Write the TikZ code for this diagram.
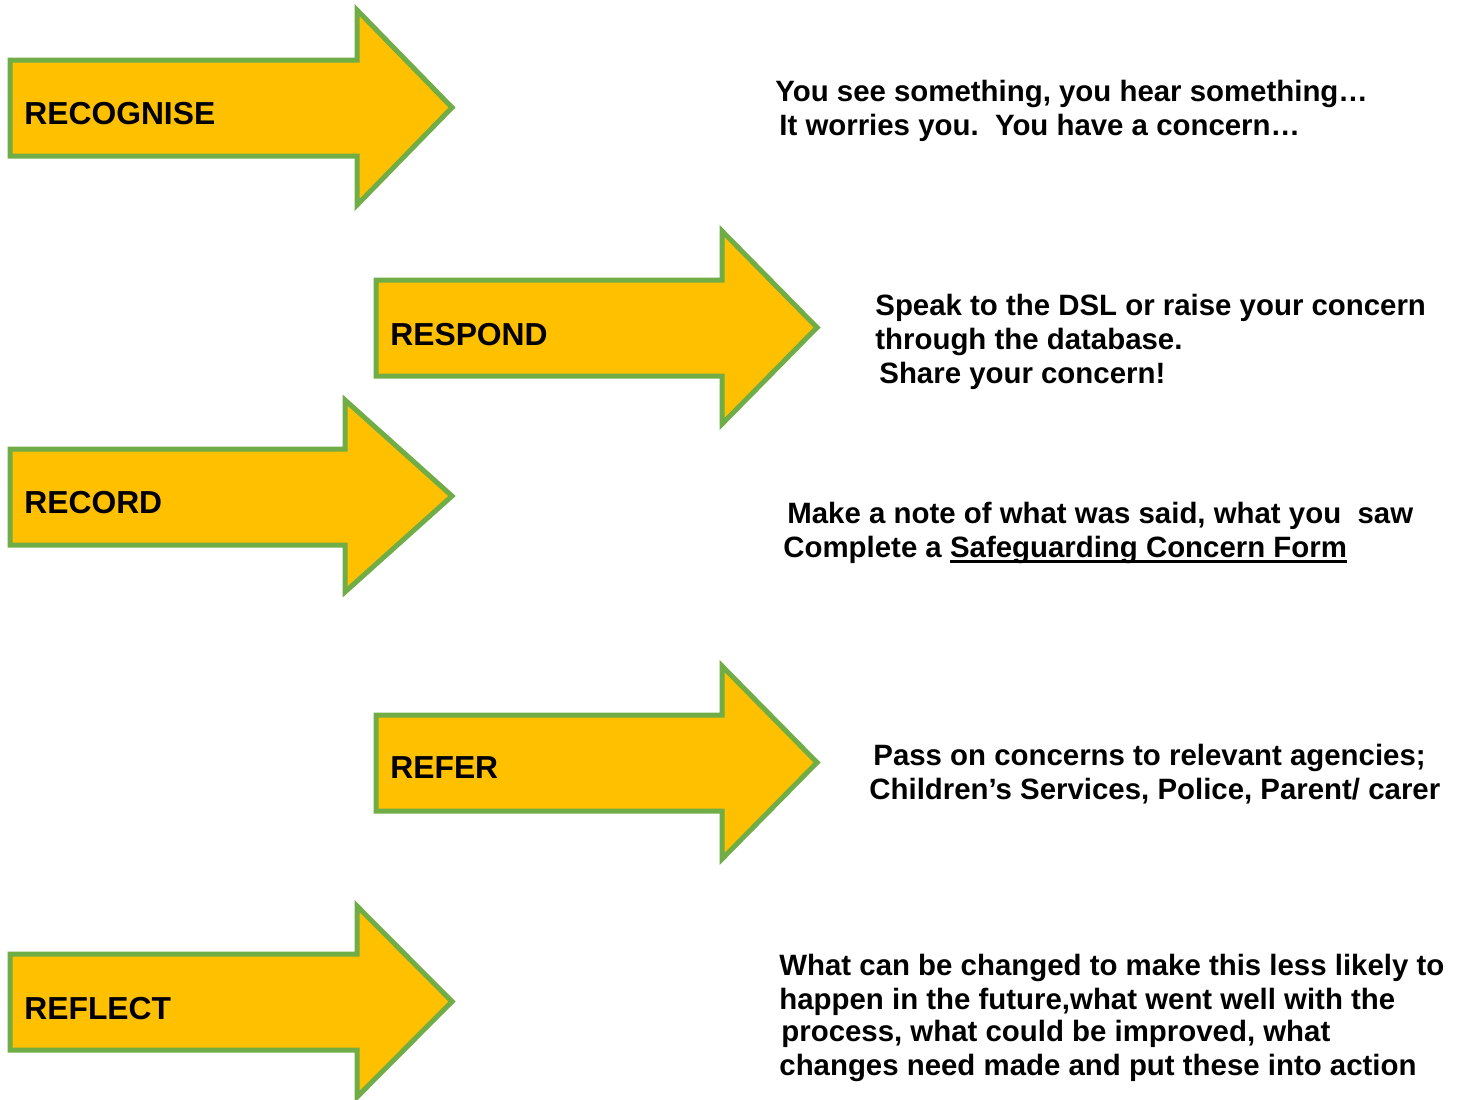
\documentclass[tikz,border=0pt]{standalone}
\usepackage{fontspec}
\setmainfont{Liberation Sans}
\definecolor{arrowfill}{HTML}{FFC000}
\definecolor{arrowline}{HTML}{70AD47}
\newsavebox{\myulbox}
\newcommand{\myul}[1]{\sbox{\myulbox}{#1}\rlap{\rule[-2.8pt]{\wd\myulbox}{1.4pt}}\usebox{\myulbox}}
\begin{document}
\begin{tikzpicture}[x=0.5pt,y=-0.5pt,
  bigarrow/.style={fill=arrowfill,draw=arrowline,line width=2.5pt,line join=miter},
  lbl/.style={anchor=base west,inner sep=0pt,font=\bfseries\fontsize{15.9}{18}\selectfont},
  txt/.style={anchor=base west,inner sep=0pt,font=\bfseries\fontsize{14.7}{17}\selectfont}]
\useasboundingbox (0,0) rectangle (1462,1099);
% arrows: (left x, body top, body bottom, head x, head top, head bottom, tip x)
\newcommand{\myarrow}[7]{%
  \draw[bigarrow] (#1,#2) -- (#4,#2) -- (#4,#5) -- (#7,{(#5+#6)/2}) -- (#4,#6) -- (#4,#3) -- (#1,#3) -- cycle;}
\myarrow{10}{60}{156}{357}{10}{205}{452}
\myarrow{376}{280}{376}{722}{231}{424}{817}
\myarrow{10}{449}{545}{345}{400}{592}{452}
\myarrow{376}{715}{811}{722}{666}{859}{817}
\myarrow{10}{954}{1050}{357}{906}{1097}{452}
\node[lbl] (l1) at (24,124) {RECOGNISE};
\node[lbl] (l2) at (390,345) {RESPOND};
\node[lbl] (l3) at (24,513) {RECORD};
\node[lbl] (l4) at (390,778) {REFER};
\node[lbl] (l5) at (24,1019) {REFLECT};
\node[txt] (a1) at (775,101) {You see something, you hear something…};
\node[txt] (a2) at (779,135) {It worries you.\ \ You have a concern…};
\node[txt] (b1) at (875,315) {Speak to the DSL or raise your concern};
\node[txt] (b2) at (875,349) {through the database.};
\node[txt] (b3) at (879,383) {Share your concern!};
\node[txt] (c1) at (787,523) {Make a note of what was said, what you\ \ saw};
\node[txt] (c2) at (783,557) {Complete a \myul{Safeguarding Concern Form}};
\node[txt] (d1) at (873,765) {Pass on concerns to relevant agencies;};
\node[txt] (d2) at (869,799) {Children’s Services, Police, Parent/ carer};
\node[txt] (e1) at (779,975) {What can be changed to make this less likely to};
\node[txt] (e2) at (779,1009) {happen in the future,what went well with the};
\node[txt] (e3) at (781,1041) {process, what could be improved, what};
\node[txt] (e4) at (779,1075) {changes need made and put these into action};
\end{tikzpicture}
\end{document}
